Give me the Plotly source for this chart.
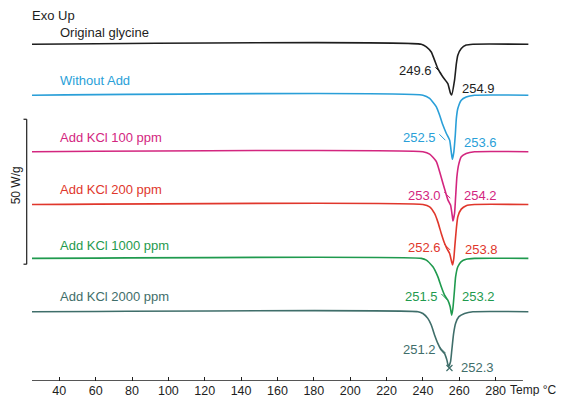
import plotly.graph_objects as go

# ---------------- data ----------------
names = ["Original glycine", "Without Add", "Add KCl 100 ppm",
         "Add KCl 200 ppm", "Add KCl 1000 ppm", "Add KCl 2000 ppm"]
colors = ["#1e1e1e", "#2a9fd8", "#d3267f", "#e0372c", "#1f9a4e", "#3f6e6a"]

# vertical offsets of each trace (W/g)
baselines = [116.2, 98.6, 79.1, 60.9, 42.3, 23.9]

# temperature (°C) and endothermic dip below baseline (W/g)
temp_glycine = [25, 239.1, 241.9, 244.6, 246.4, 248.2, 251.0, 253.7, 255.2, 255.8,
                257.4, 258.4, 259.2, 261.1, 263.8, 267.5, 298]
dip_glycine = [0, 0, 0.9, 2.7, 5.5, 8.4, 11.3, 13.6, 17.0, 17.5,
               12.4, 6.7, 3.8, 1.5, 0.3, 0, 0]

temp_without = [25, 240.0, 243.7, 247.4, 249.2, 251.0, 252.9, 254.7, 255.6, 256.2,
                257.0, 257.8, 258.4, 259.2, 261.1, 263.8, 268.4, 298]
dip_without = [0, 0, 1.1, 4.0, 6.9, 10.3, 13.2, 15.5, 19.6, 22.1,
               19.6, 13.8, 8.0, 4.6, 1.7, 0.6, 0, 0]

temp_kcl100 = [25, 240.0, 243.7, 247.4, 249.2, 251.0, 252.9, 253.8, 255.2, 256.2,
               256.5, 257.4, 258.0, 258.7, 259.6, 261.1, 263.8, 268.4, 298]
dip_kcl100 = [0, 0, 0.8, 3.4, 6.9, 10.9, 14.9, 16.7, 18.4, 22.4,
              23.9, 21.3, 15.5, 8.6, 4.6, 1.7, 0.6, 0, 0]

temp_kcl200 = [25, 240.0, 243.7, 246.4, 248.2, 250.1, 251.9, 253.2, 254.7, 255.8,
               256.3, 257.0, 257.6, 258.4, 259.2, 261.1, 263.8, 268.4, 298]
dip_kcl200 = [0, 0, 0.8, 3.1, 6.0, 10.0, 13.4, 15.2, 16.9, 19.8,
              20.9, 18.6, 14.0, 8.3, 4.2, 1.6, 0.4, 0, 0]

temp_kcl1000 = [25, 239.1, 241.9, 245.5, 248.2, 250.1, 251.9, 253.7, 255.0, 255.8,
                256.5, 257.3, 258.0, 259.2, 261.1, 263.8, 268.4, 298]
dip_kcl1000 = [0, 0, 0.6, 2.9, 6.3, 9.8, 12.7, 14.4, 16.7, 19.6,
               17.2, 11.5, 6.3, 2.9, 1.1, 0.3, 0, 0]

temp_kcl2000 = [25, 237.3, 240.0, 242.7, 244.6, 246.4, 248.2, 250.1, 251.9, 253.2,
                254.1, 255.2, 255.9, 256.9, 258.0, 259.8, 262.9, 267.5, 298]
dip_kcl2000 = [0, 0, 0.6, 2.3, 4.6, 8.0, 10.9, 13.2, 14.4, 16.7,
               19.0, 17.2, 13.2, 7.5, 4.0, 1.7, 0.6, 0, 0]

temps = [temp_glycine, temp_without, temp_kcl100, temp_kcl200, temp_kcl1000, temp_kcl2000]
dips = [dip_glycine, dip_without, dip_kcl100, dip_kcl200, dip_kcl1000, dip_kcl2000]

onset_labels = ["249.6", "252.5", "253.0", "252.6", "251.5", "251.2"]
peak_labels = ["254.9", "253.6", "254.2", "253.8", "253.2", "252.3"]

x_ticks = [40, 60, 80, 100, 120, 140, 160, 180, 200, 220, 240, 260, 280]
scale_bar = 50  # W/g

# ---------------- figure ----------------
FONT = "Arial, Liberation Sans, sans-serif"
fig = go.Figure()

for t, d, base, c, n in zip(temps, dips, baselines, colors, names):
    fig.add_trace(go.Scatter(
        x=t, y=[base - v for v in d], mode="lines", name=n,
        line=dict(color=c, width=1.6, shape="spline", smoothing=0.5),
        hoverinfo="skip", showlegend=False))

# small x marker at the last peak minimum
fig.add_trace(go.Scatter(x=[254.6], y=[4.5], mode="markers",
                         marker=dict(symbol="x-thin", size=6, color=colors[5],
                                     line=dict(width=1.2, color=colors[5])),
                         showlegend=False, hoverinfo="skip"))

ann = []
# curve names
name_y = [120.3, 103.8, 84.1, 65.9, 46.9, 29.0]
for n, y, c in zip(names, name_y, colors):
    ann.append(dict(x=39.3, y=y, text=n, xanchor="left", yanchor="middle",
                    font=dict(color=c, size=13)))
ann.append(dict(xref="paper", yref="paper", x=-0.004, y=0.984, text="Exo Up",
                xanchor="left", yanchor="middle", font=dict(color="#1e1e1e", size=13)))

# onset (left) and peak (right) labels
onset_pos = [(245.9, 107.2), (248.1, 84.1), (250.8, 64.1), (250.8, 46.2), (249.2, 29.0), (248.1, 10.7)]
peak_pos = [(260.2, 101.0), (261.3, 82.4), (261.3, 64.1), (261.8, 45.2), (260.2, 29.0), (259.6, 4.5)]
for lab, (x, y), c in zip(onset_labels, onset_pos, colors):
    ann.append(dict(x=x, y=y, text=lab, xanchor="right", yanchor="middle",
                    font=dict(color=c, size=13)))
for lab, (x, y), c in zip(peak_labels, peak_pos, colors):
    ann.append(dict(x=x, y=y, text=lab, xanchor="left", yanchor="middle",
                    font=dict(color=c, size=13)))

# small onset tick marks next to the left labels
fig.add_trace(go.Scatter(
    x=[p[0] + 2.6 for p in onset_pos], y=[p[1] for p in onset_pos], mode="markers",
    marker=dict(symbol="line-nw", size=6, color=colors,
                line=dict(width=1, color=colors)),
    showlegend=False, hoverinfo="skip"))

# axis title
ann.append(dict(xref="paper", yref="paper", x=1.052, y=-0.024, text="Temp °C",
                xanchor="right", yanchor="middle", font=dict(color="#1e1e1e", size=12)))

# scale bar label
sb_lo, sb_hi = 40.3, 40.3 + scale_bar
ann.append(dict(xref="paper", x=-0.032, y=67.5, text="%d W/g" % scale_bar, textangle=-90,
                xanchor="center", yanchor="middle", font=dict(color="#1e1e1e", size=12)))

for a in ann:
    a.setdefault("showarrow", False)
fig.update_layout(annotations=ann)

shapes = [
    # x axis line
    dict(type="line", xref="x", yref="y", x0=25, x1=295, y0=0, y1=0,
         line=dict(color="#1e1e1e", width=1.3)),
    # scale bar
    dict(type="line", xref="paper", yref="y", x0=-0.0106, x1=-0.0106, y0=sb_lo, y1=sb_hi,
         line=dict(color="#1e1e1e", width=1.2)),
    dict(type="line", xref="paper", yref="y", x0=-0.017, x1=-0.0106, y0=sb_lo, y1=sb_lo,
         line=dict(color="#1e1e1e", width=1.2)),
    dict(type="line", xref="paper", yref="y", x0=-0.017, x1=-0.0106, y0=sb_hi, y1=sb_hi,
         line=dict(color="#1e1e1e", width=1.2)),
]
fig.update_layout(shapes=shapes)

# page body has an 8px margin, so the figure is 8px smaller and margins shifted
fig.update_layout(
    width=561, height=388,
    margin=dict(l=24, r=36.5, t=2, b=15, autoexpand=False),
    paper_bgcolor="white", plot_bgcolor="white",
    font=dict(family=FONT, size=13, color="#1e1e1e"),
    xaxis=dict(range=[25, 300], tickvals=x_ticks, ticks="inside", ticklen=4,
               tickcolor="#1e1e1e", showline=False, showgrid=False, zeroline=False,
               tickfont=dict(size=12.5, color="#1e1e1e"), automargin=False, fixedrange=True),
    yaxis=dict(range=[0, 128], visible=False, fixedrange=True),
)

fig.write_html("out.html")
